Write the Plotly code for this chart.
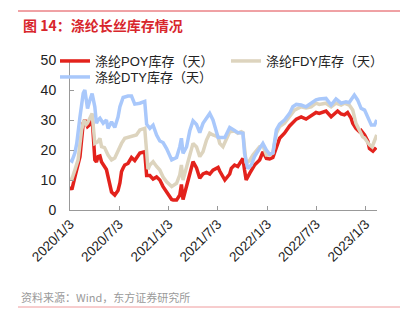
import plotly.graph_objects as go

# ---------------- data ----------------
poy_dates = ["2020-01-03","2020-01-10","2020-01-21","2020-02-02","2020-02-09","2020-02-21","2020-02-27",
    "2020-03-08","2020-03-17","2020-03-25","2020-04-04","2020-04-10","2020-04-16","2020-04-23","2020-04-29",
    "2020-05-17","2020-05-23","2020-06-05","2020-06-17","2020-06-29","2020-07-06","2020-07-12","2020-07-18",
    "2020-07-24","2020-08-05","2020-08-18","2020-08-30","2020-09-18","2020-10-06","2020-10-13","2020-10-25",
    "2020-11-06","2020-11-19","2020-12-01","2020-12-13","2020-12-26","2021-01-01","2021-01-14","2021-01-20",
    "2021-02-01","2021-02-13","2021-02-19","2021-02-25","2021-03-10","2021-03-22","2021-04-03","2021-04-16",
    "2021-04-28","2021-05-10","2021-05-23","2021-06-04","2021-06-16","2021-07-05","2021-07-11","2021-07-30",
    "2021-08-17","2021-08-23","2021-09-04","2021-09-16","2021-09-29","2021-10-05","2021-10-11","2021-10-17",
    "2021-10-30","2021-11-17","2021-12-06","2021-12-18","2021-12-31","2022-01-12","2022-01-24","2022-02-06",
    "2022-02-18","2022-03-08","2022-03-27","2022-04-21","2022-05-09","2022-05-27","2022-06-15","2022-07-03",
    "2022-07-15","2022-08-09","2022-08-28","2022-09-21","2022-10-04","2022-10-16","2022-10-28","2022-11-10",
    "2022-11-16","2022-11-28","2022-12-11","2022-12-17","2022-12-30","2023-01-11","2023-01-17","2023-01-30",
    "2023-02-11"]
poy_values = [7.8,6.8,11,15.5,17.8,29,30,
    27.8,28.5,31,16.7,16,17.8,18,16,
    13.5,11,6,5,6.5,9,12.8,14,
    15,15.5,17.5,16.5,19,19.4,11.5,11.5,
    10.3,11,10,7.8,6,5,3.5,3.3,
    3.3,5,8.5,3.5,8,12.2,16.1,14,
    10.6,12,12.5,12,13.3,14.2,13,10,
    12,13.9,15,14.5,16.7,17.2,13.3,10,
    12.2,15,16.7,19.4,17.2,17,17.5,21.1,
    23.9,25.6,28,30.3,31,30.3,31.5,32.5,
    32.2,33,31.1,33,32,31.7,32.5,30.6,
    28.9,27.2,26.1,26.5,25,23,20.5,19.6,
    20.8]

fdy_dates = ["2020-01-03","2020-01-10","2020-01-21","2020-02-02","2020-02-15","2020-02-24","2020-03-03",
    "2020-03-08","2020-03-25","2020-04-04","2020-04-16","2020-04-23","2020-04-29","2020-05-10","2020-05-23",
    "2020-06-05","2020-06-17","2020-06-29","2020-07-12","2020-07-24","2020-08-18","2020-09-05","2020-09-18",
    "2020-10-06","2020-10-13","2020-10-18","2020-10-25","2020-11-06","2020-11-19","2020-12-01","2020-12-13",
    "2020-12-26","2021-01-14","2021-02-01","2021-02-13","2021-02-19","2021-02-25","2021-03-10","2021-03-22",
    "2021-04-03","2021-04-16","2021-04-28","2021-05-10","2021-05-23","2021-06-04","2021-06-16","2021-07-05",
    "2021-07-11","2021-07-23","2021-07-30","2021-08-17","2021-09-04","2021-09-16","2021-09-29","2021-10-05",
    "2021-10-17","2021-10-30","2021-11-11","2021-11-24","2021-12-06","2021-12-18","2021-12-31","2022-01-12",
    "2022-01-24","2022-02-06","2022-02-18","2022-03-08","2022-03-27","2022-04-14","2022-05-09","2022-05-27",
    "2022-06-15","2022-07-03","2022-07-15","2022-08-09","2022-08-28","2022-09-15","2022-10-04","2022-10-16",
    "2022-11-03","2022-11-16","2022-11-28","2022-12-11","2022-12-23","2022-12-30","2023-01-17","2023-01-27",
    "2023-02-05","2023-02-13"]
fdy_values = [10.6,10.3,13.3,16.7,26.7,30,28.5,
    29,32.2,22.2,22.8,23.9,21.1,20.8,18.3,
    16.7,17.3,20,22.2,23.9,24.4,25,26.7,
    27.2,19.4,13.6,15,16.1,14.5,13.3,11,
    9.4,7.8,8.9,11.7,15,10,14.4,18.9,
    22.2,21,17.8,19.4,23.3,25.6,25,24.4,
    22.2,21.1,22.5,26.1,26.3,25.6,26.1,25.8,
    15.6,16.5,18.3,20,21.1,21.5,18.3,18.3,
    19,25.6,27.8,28.9,31.1,33.3,34.4,34,
    34.4,35.6,35.2,35.6,34.4,35.6,35,35.6,
    35,33.3,28.9,26.7,24.4,24,21.7,21,
    22.8,25]

dty_dates = ["2020-01-03","2020-01-10","2020-01-21","2020-01-28","2020-02-09","2020-02-21","2020-02-27",
    "2020-03-08","2020-03-17","2020-03-25","2020-04-04","2020-04-10","2020-04-16","2020-04-23","2020-05-05",
    "2020-05-17","2020-05-23","2020-06-05","2020-06-17","2020-06-29","2020-07-06","2020-07-18","2020-08-05",
    "2020-08-18","2020-08-30","2020-09-18","2020-10-06","2020-10-13","2020-10-25","2020-11-06","2020-11-19",
    "2020-12-01","2020-12-13","2020-12-26","2021-01-14","2021-02-01","2021-02-13","2021-02-19","2021-02-25",
    "2021-03-10","2021-03-22","2021-04-03","2021-04-16","2021-04-28","2021-05-10","2021-05-23","2021-06-04",
    "2021-06-16","2021-06-23","2021-07-05","2021-07-30","2021-08-17","2021-09-04","2021-09-16","2021-10-05",
    "2021-10-11","2021-10-23","2021-11-05","2021-11-17","2021-12-06","2021-12-18","2021-12-31","2022-01-12",
    "2022-01-24","2022-02-06","2022-02-18","2022-03-08","2022-03-27","2022-04-08","2022-04-21","2022-05-09",
    "2022-05-27","2022-06-15","2022-07-03","2022-07-15","2022-08-09","2022-08-28","2022-09-15","2022-10-04",
    "2022-10-22","2022-11-03","2022-11-22","2022-12-04","2022-12-17","2022-12-30","2023-01-11","2023-01-24",
    "2023-02-05","2023-02-13"]
dty_values = [16.7,16.3,19,22.2,31.1,38.9,40,
    33.8,36.7,38.8,34.4,28.9,30,30.6,28.9,
    30,27.2,29.4,27.5,31,34.4,37.5,38,
    38,35.3,35.6,36.2,28.6,27.2,28.3,25,
    23,22.5,20.5,16.7,17.5,21.1,23.9,18.9,
    21,26.4,29.7,28.5,25.8,28.9,30.8,32.2,
    30,28,24.2,24.2,27.5,26.5,25.8,25.6,
    18.9,13.8,15,17.8,20.2,22.2,20,18.6,
    19,26.7,28.6,30,32.2,34.4,35.2,35,
    34.4,35.6,36.7,37,37.2,35,37,35.6,
    36.1,35.8,38.3,36.7,33.9,33.3,31.1,28.3,
    28.3,30]

series_names = ["涤纶POY库存（天）", "涤纶FDY库存（天）", "涤纶DTY库存（天）"]
tick_dates = ["2020-01-03","2020-07-03","2021-01-03","2021-07-03","2022-01-03","2022-07-03","2023-01-03"]
tick_labels = ["2020/1/3","2020/7/3","2021/1/3","2021/7/3","2022/1/3","2022/7/3","2023/1/3"]
y_ticks = [0, 10, 20, 30, 40, 50]

title_text = "图 14：涤纶长丝库存情况"
source_text = "资料来源：Wind，东方证券研究所"

# ---------------- figure ----------------
FONT = "Liberation Sans, Arial, Noto Sans CJK SC, sans-serif"
CJK = "Noto Sans CJK SC, Liberation Sans, sans-serif"
colors = ["#e3221c", "#ddd4be", "#a9c8fb"]
legend_ids = ["legend", "legend2", "legend3"]

fig = go.Figure()
for name, xs, ys, c, lg in zip(series_names,
                               [poy_dates, fdy_dates, dty_dates],
                               [poy_values, fdy_values, dty_values],
                               colors, legend_ids):
    fig.add_trace(go.Scatter(x=xs, y=ys, name=name, mode="lines", legend=lg,
                             line=dict(color=c, width=3.5, shape="linear")))

W, H = 413, 329
L, R, T, B = 70, 36, 60, 119
pw, ph = W - L - R, H - T - B

def px_x(x):
    return (x - L) / pw

def px_y(y):
    return (H - B - y) / ph

legend_style = dict(orientation="v", xanchor="left", yanchor="top",
                    bgcolor="rgba(0,0,0,0)", borderwidth=0,
                    font=dict(family=FONT, size=13, color="#222"),
                    tracegroupgap=0, itemwidth=30)

fig.update_layout(
    width=W, height=H,
    margin=dict(l=L, r=R, t=T, b=B, pad=0),
    paper_bgcolor="white", plot_bgcolor="white",
    font=dict(family=FONT, size=13, color="#222"),
    showlegend=True,
    legend=dict(x=px_x(55), y=px_y(46), **legend_style),
    legend2=dict(x=px_x(226), y=px_y(46), **legend_style),
    legend3=dict(x=px_x(55), y=px_y(62), **legend_style),
    xaxis=dict(type="date", range=["2020-01-03", "2023-02-14"],
               tickvals=tick_dates, ticktext=tick_labels, tickangle=-45,
               ticks="inside", ticklen=4, tickcolor="#999", tickwidth=1,
               showline=True, linecolor="#999", linewidth=1,
               showgrid=False, zeroline=False,
               tickfont=dict(family=FONT, size=13.5, color="#222")),
    yaxis=dict(range=[0, 50], tickvals=y_ticks,
               ticks="inside", ticklen=4, tickcolor="#999", tickwidth=1,
               showline=True, linecolor="#999", linewidth=1,
               showgrid=False, zeroline=False, ticklabelstandoff=10,
               tickfont=dict(family=FONT, size=14, color="#222")),
)

# header / footer decorations
fig.add_shape(type="line", xref="paper", yref="paper",
              x0=px_x(18), x1=px_x(400), y0=px_y(11), y1=px_y(11),
              line=dict(color="#e0454a", width=1))
fig.add_shape(type="line", xref="paper", yref="paper",
              x0=px_x(18), x1=px_x(400), y0=px_y(307), y1=px_y(307),
              line=dict(color="#ef9a9c", width=1))
fig.add_annotation(text="<b>" + title_text + "</b>", xref="paper", yref="paper",
                   x=px_x(21), y=px_y(25), xanchor="left", yanchor="middle",
                   showarrow=False, font=dict(family=CJK, size=14, color="#d8262c"))
fig.add_annotation(text=source_text, xref="paper", yref="paper",
                   x=px_x(19), y=px_y(297), xanchor="left", yanchor="middle",
                   showarrow=False, font=dict(family=CJK, size=11, color="#9a9a9a"))

fig.write_html("out.html")
